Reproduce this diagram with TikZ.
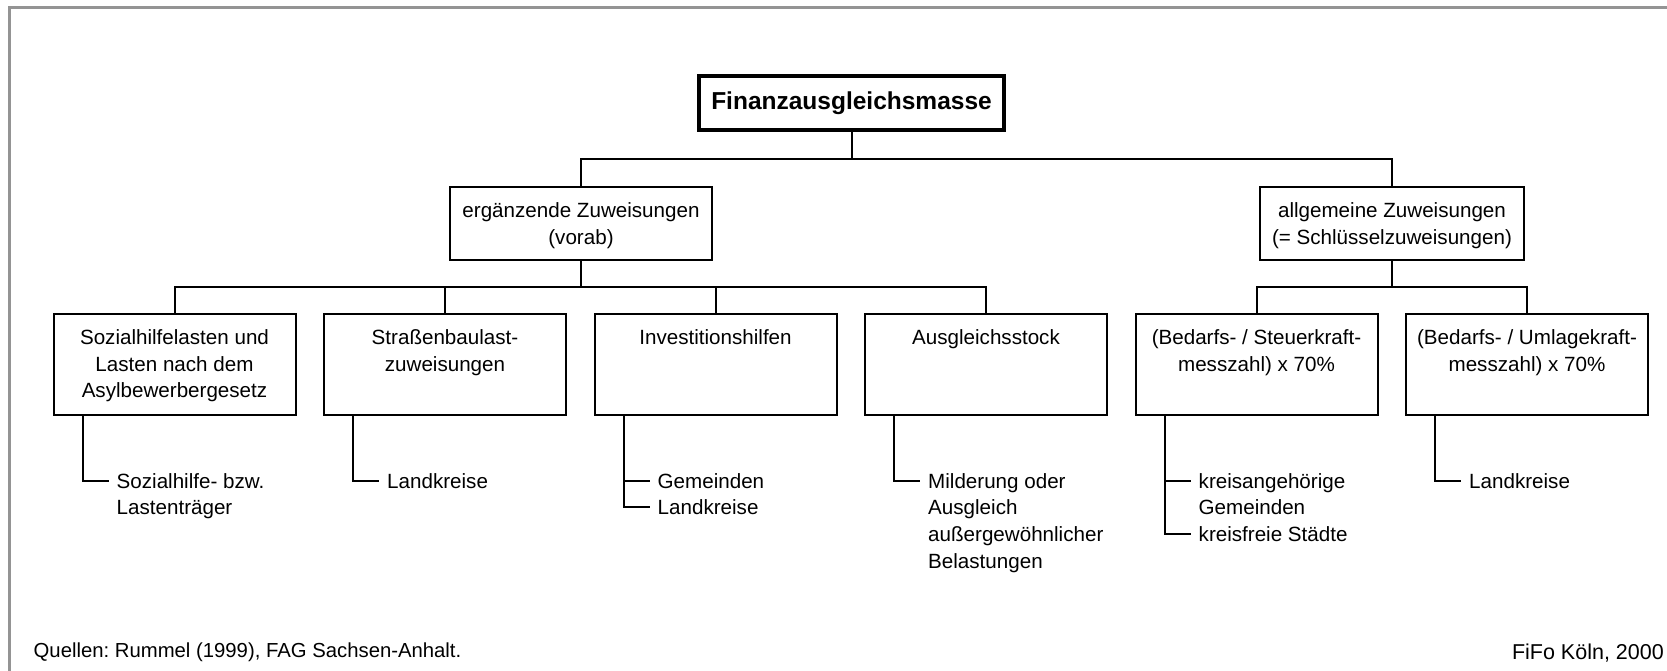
\documentclass[tikz,border=0pt]{standalone}
\usepackage{fontspec}
\setmainfont{Liberation Sans}
\frenchspacing
\newcommand\mybody{\fontsize{20.6pt}{26.8pt}\selectfont}
\begin{document}
\begin{tikzpicture}[x=1pt,y=-1pt,
  conn/.style={line width=2pt},
  box/.style={draw, line width=2pt, inner sep=0pt, outer sep=0pt, minimum width=242pt, minimum height=101pt},
  boxtext/.style={anchor=north, align=center, inner sep=0pt, font=\mybody},
  item/.style={anchor=north west, align=left, inner xsep=8pt, inner ysep=0pt, font=\mybody}]
\useasboundingbox (0,0) rectangle (1667,671);
\draw[black!42, line width=3pt] (9.5,671) -- (9.5,7.5) -- (1667,7.5);

% top
\node[draw, line width=4pt, inner sep=0pt, outer sep=0pt, minimum width=305pt, minimum height=54pt,
  font=\fontsize{24.5pt}{28pt}\selectfont\bfseries] (fa) at (851.5,103) {Finanzausgleichsmasse};

% second level
\node[box, minimum width=262pt, minimum height=73pt] (erg) at (581,223.5) {};
\node[boxtext] (ergt) at ([yshift=-15.4pt]erg.north) {ergänzende Zuweisungen\\(vorab)};
\node[box, minimum width=264pt, minimum height=73pt] (alg) at (1392,223.5) {};
\node[boxtext] (algt) at ([yshift=-15.4pt]alg.north) {allgemeine Zuweisungen\\(= Schlüsselzuweisungen)};

% third level
\node[box] (b1) at (174.5,364) {};
\node[box] (b2) at (445,364) {};
\node[box] (b3) at (715.5,364) {};
\node[box] (b4) at (986,364) {};
\node[box] (b5) at (1256.5,364) {};
\node[box] (b6) at (1527,364) {};
\node[boxtext] (t1) at ([yshift=-15.6pt]b1.north) {Sozialhilfelasten und\\Lasten nach dem\\Asylbewerbergesetz};
\node[boxtext] (t2) at ([yshift=-15.6pt]b2.north) {Straßenbaulast-\\zuweisungen};
\node[boxtext] (t3) at ([yshift=-15.6pt]b3.north) {Investitionshilfen};
\node[boxtext] (t4) at ([yshift=-15.6pt]b4.north) {Ausgleichsstock};
\node[boxtext] (t5) at ([yshift=-15.6pt]b5.north) {(Bedarfs- / Steuerkraft-\\messzahl) x 70\%};
\node[boxtext] (t6) at ([yshift=-15.6pt]b6.north) {(Bedarfs- / Umlagekraft-\\messzahl) x 70\%};

% buses
\coordinate (busA) at (0,159);
\coordinate (busB) at (0,287);
\draw[conn] (fa.south) -- (fa.south |- busA);
\draw[conn] (erg.north) |- (busA -| alg.north) -- (alg.north);
\draw[conn] (erg.south) -- (erg.south |- busB);
\draw[conn] (b1.north) |- (busB -| b4.north) -- (b4.north);
\draw[conn] (b2.north) -- (b2.north |- busB);
\draw[conn] (b3.north) -- (b3.north |- busB);
\draw[conn] (alg.south) -- (alg.south |- busB);
\draw[conn] (b5.north) |- (busB -| b6.north) -- (b6.north);

% items
\node[item] (i1) at ([xshift=55pt,yshift=-58.5pt]b1.south west) {Sozialhilfe- bzw.\\Lastenträger};
\draw[conn] ([xshift=29pt]b1.south west) |- ([yshift=-7.6pt]i1.north west);

\node[item] (i2) at ([xshift=55pt,yshift=-58.5pt]b2.south west) {Landkreise};
\draw[conn] ([xshift=29pt]b2.south west) |- ([yshift=-7.6pt]i2.north west);

\node[item] (i3a) at ([xshift=55pt,yshift=-58.5pt]b3.south west) {Gemeinden};
\node[item] (i3b) at ([xshift=55pt,yshift=-85.2pt]b3.south west) {Landkreise};
\draw[conn] ([xshift=29pt]b3.south west) |- ([yshift=-7.6pt]i3b.north west);
\draw[conn] ([yshift=-7.6pt]i3a.north west) -- ++(-26,0);

\node[item] (i4) at ([xshift=55pt,yshift=-58.5pt]b4.south west) {Milderung oder\\Ausgleich\\außergewöhnlicher\\Belastungen};
\draw[conn] ([xshift=29pt]b4.south west) |- ([yshift=-7.6pt]i4.north west);

\node[item] (i5a) at ([xshift=55pt,yshift=-58.5pt]b5.south west) {kreisangehörige\\Gemeinden};
\node[item] (i5b) at ([xshift=55pt,yshift=-111.9pt]b5.south west) {kreisfreie Städte};
\draw[conn] ([xshift=29pt]b5.south west) |- ([yshift=-7.6pt]i5b.north west);
\draw[conn] ([yshift=-7.6pt]i5a.north west) -- ++(-26,0);

\node[item] (i6) at ([xshift=55pt,yshift=-58.5pt]b6.south west) {Landkreise};
\draw[conn] ([xshift=29pt]b6.south west) |- ([yshift=-7.6pt]i6.north west);

% footer
\node[anchor=base west, inner sep=0pt, font=\fontsize{20.3pt}{24pt}\selectfont] (src) at (33.5,657.5) {Quellen: Rummel (1999), FAG Sachsen-Anhalt.};
\node[anchor=base east, inner sep=0pt, font=\fontsize{21.5pt}{24pt}\selectfont] (fifo) at (1664,659.4) {FiFo Köln, 2000};
\end{tikzpicture}
\end{document}
